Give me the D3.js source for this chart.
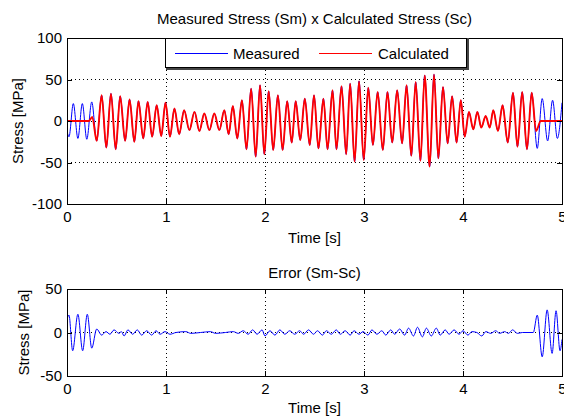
<!DOCTYPE html>
<html lang="en">
<head>
  <meta charset="utf-8">
  <title>Measured Stress x Calculated Stress</title>
  <style>
    body {
      margin: 0;
      background: #fff;
    }

    svg {
      display: block;
      font-family: "Liberation Sans", Arial, sans-serif;
    }

    .axis text {
      font-size: 15px;
      fill: #000;
    }

    .axis path,
    .axis line {
      fill: none;
      stroke: #000;
      shape-rendering: crispEdges;
    }

    .grid line {
      stroke: #000;
      stroke-dasharray: 1, 3;
      shape-rendering: crispEdges;
    }

    .label {
      font-size: 15px;
      fill: #000;
    }
  </style>
</head>

<body>
  <div id="chart"></div>
  <script src="https://d3js.org/d3.v7.min.js"></script>
  <script>

    // ---- data (turning points of each trace) ----

    let xTicks = [0, 1, 2, 3, 4, 5];
    let topYTicks = [-100, -50, 0, 50, 100];
    let errYTicks = [-50, 0, 50];

    // calculated stress Sc [MPa]
    let calcTime = [0, 0.22, 0.255, 0.30, 0.35, 0.397, 0.444, 0.492, 0.537, 0.587,
      0.632, 0.68, 0.722, 0.77, 0.815, 0.86, 0.906, 0.952, 0.995, 1.04,
      1.085, 1.133, 1.183, 1.236, 1.288, 1.337, 1.387, 1.438, 1.488, 1.539,
      1.589, 1.633, 1.675, 1.72, 1.767, 1.813, 1.86, 1.906, 1.95, 1.993,
      2.037, 2.083, 2.13, 2.178, 2.224, 2.27, 2.31, 2.356, 2.402, 2.452,
      2.495, 2.54, 2.59, 2.632, 2.682, 2.722, 2.773, 2.82, 2.86, 2.905,
      2.95, 2.997, 3.043, 3.09, 3.138, 3.19, 3.237, 3.285, 3.335, 3.385,
      3.43, 3.478, 3.522, 3.57, 3.613, 3.663, 3.707, 3.751, 3.798, 3.845,
      3.89, 3.935, 3.978, 4.017, 4.06, 4.104, 4.145, 4.185, 4.229, 4.27,
      4.306, 4.353, 4.4, 4.452, 4.505, 4.55, 4.598, 4.646, 4.694, 4.738,
      4.785, 5.0];
    let calcStress = [0, 0, 5, -24, 31, -32, 33, -34, 30, -24,
      26, -25, 24, -21, 23, -19, 19, -18, 22, -19,
      15, -16, 13, -11, 11, -12, 9, -11, 9, -11,
      13, -16, 18, -21, 25, -34, 39, -43, 43, -40,
      36, -35, 31, -35, 24, -26, 24, -23, 27, -29,
      31, -33, 27, -34, 37, -34, 42, -40, 45, -49,
      48, -47, 40, -29, 35, -35, 35, -26, 37, -27,
      43, -42, 47, -48, 55, -55, 56, -45, 41, -27,
      30, -26, 25, -19, 11, -10, 11, -8, 6, -8,
      13, -12, 19, -26, 34, -31, 35, -34, 34, -12,
      0, 0];

    // measured stress Sm [MPa]: follows Sc in the middle, own swings at both ends
    let measStartTime = [0, 0.02, 0.064, 0.11, 0.155, 0.20, 0.25];
    let measStartStress = [-12, -19, 21, -21, 21, -22, 23];
    let measEndTime = [4.75, 4.80, 4.855, 4.905, 4.953, 5.0];
    let measEndStress = [-33, 27, -24, 25, -21, 22];

    // error Sm - Sc [MPa]
    let errTime = [0, 0.02, 0.057, 0.11, 0.158, 0.205, 0.25, 0.30, 0.35, 0.394,
      0.434, 0.475, 0.525, 0.55, 0.576, 0.616, 0.663, 0.71, 0.754, 0.805,
      0.855, 0.90, 0.94, 0.99, 1.04, 1.10, 1.2, 1.25, 1.35, 1.45,
      1.5, 1.6, 1.68, 1.73, 1.78, 1.83, 1.875, 1.92, 1.97, 2.0,
      2.05, 2.10, 2.15, 2.2, 2.25, 2.30, 2.35, 2.39, 2.44, 2.49,
      2.53, 2.58, 2.62, 2.67, 2.72, 2.76, 2.81, 2.86, 2.90, 2.95,
      2.99, 3.04, 3.08, 3.13, 3.18, 3.22, 3.27, 3.31, 3.36, 3.41,
      3.45, 3.50, 3.54, 3.59, 3.63, 3.68, 3.73, 3.77, 3.82, 3.86,
      3.91, 3.96, 4.00, 4.05, 4.09, 4.14, 4.19, 4.23, 4.28, 4.33,
      4.37, 4.42, 4.46, 4.50, 4.55, 4.60, 4.71, 4.75, 4.80, 4.85,
      4.90, 4.94, 4.98, 5.0];
    let errStress = [15, 20, -21, 21, -21, 21, -18, 4, -3, 1,
      -2, 3, -1, 1, -4, 3, -2, 3, -3, 2,
      -3, 2, -2, 1, -2, 0, 1, -1, 0, 1,
      -1, 0, 1, -1, 2, -2, 3, -2, 3, -4,
      2, -3, 3, -2, 2, -2, 2, -2, 3, -2,
      2, -3, 2, -2, 3, -2, 2, -3, 2, -2,
      1, -3, 3, -2, 2, -3, 3, -2, 4, -3,
      5, -4, 6, -5, 5, -4, 5, -3, 3, -2,
      3, -2, 2, -3, 1, 0, -4, 1, -1, 2,
      -1, 1, -1, 3, -1, 0, 0, 20, -28, 26,
      -24, 25, -21, -8];

    // ---- build point lists ----
    let calcPts = d3.zip(calcTime, calcStress);
    let measPts = d3.zip(measStartTime, measStartStress)
      .concat(calcPts.filter(p => p[0] >= 0.3 && p[0] < 4.7))
      .concat(d3.zip(measEndTime, measEndStress));
    let errPts = d3.zip(errTime, errStress);

    // ---- layout ----
    let W = 564, H = 416;
    let left = 67, right = 562;
    let w = right - left;

    let svg = d3.select("#chart")
      .append("svg")
      .attr("width", W)
      .attr("height", H);

    let x = d3.scaleLinear().domain([0, 5]).range([0, w]);

    function panel(top, bottom, yDomain, yTicks, gridY, id) {
      let h = bottom - top;
      let y = d3.scaleLinear().domain(yDomain).range([h, 0]);
      let g = svg.append("g").attr("transform", "translate(" + left + "," + top + ")");

      g.append("clipPath").attr("id", id)
        .append("rect").attr("width", w).attr("height", h);

      // dotted grid
      let grid = g.append("g").attr("class", "grid");
      grid.selectAll(".gx").data([1, 2, 3, 4]).enter().append("line")
        .attr("x1", d => x(d)).attr("x2", d => x(d))
        .attr("y1", 0).attr("y2", h);
      grid.selectAll(".gy").data(gridY).enter().append("line")
        .attr("x1", 0).attr("x2", w)
        .attr("y1", d => y(d)).attr("y2", d => y(d));

      let plot = g.append("g").attr("clip-path", "url(#" + id + ")");

      // axes (MATLAB style box with inward ticks)
      let fmt = d => String(d);
      g.append("g").attr("class", "axis")
        .attr("transform", "translate(0," + h + ")")
        .call(d3.axisBottom(x).tickValues(xTicks).tickSize(-5).tickSizeOuter(0).tickPadding(7).tickFormat(fmt));
      g.append("g").attr("class", "axis")
        .call(d3.axisTop(x).tickValues(xTicks).tickSize(-5).tickSizeOuter(0).tickFormat(""));
      g.append("g").attr("class", "axis")
        .call(d3.axisLeft(y).tickValues(yTicks).tickSize(-5).tickSizeOuter(0).tickPadding(5).tickFormat(fmt));
      g.append("g").attr("class", "axis")
        .attr("transform", "translate(" + w + ",0)")
        .call(d3.axisRight(y).tickValues(yTicks).tickSize(-5).tickSizeOuter(0).tickFormat(""));

      return { g: g, plot: plot, y: y, h: h };
    }

    function curve(y) {
      return d3.line()
        .x(d => x(d[0]))
        .y(d => y(d[1]))
        .curve(d3.curveMonotoneX);
    }

    // ---- top: Sm vs Sc ----
    let p1 = panel(38, 204, [-100, 100], topYTicks, [-50, 0, 50], "clipTop");

    p1.plot.append("path")
      .datum(measPts)
      .attr("fill", "none")
      .attr("stroke", "#0000ff")
      .attr("stroke-width", 1)
      .attr("d", curve(p1.y));

    p1.plot.append("path")
      .datum(calcPts)
      .attr("fill", "none")
      .attr("stroke", "#ff0000")
      .attr("stroke-width", 1.9)
      .attr("d", curve(p1.y));

    svg.append("text").attr("class", "label")
      .attr("x", left + w / 2).attr("y", 24)
      .attr("text-anchor", "middle")
      .text("Measured Stress (Sm) x Calculated Stress (Sc)");

    svg.append("text").attr("class", "label")
      .attr("x", left + w / 2).attr("y", 243)
      .attr("text-anchor", "middle")
      .text("Time [s]");

    svg.append("text").attr("class", "label")
      .attr("transform", "translate(23," + (38 + p1.h / 2) + ") rotate(-90)")
      .attr("text-anchor", "middle")
      .text("Stress [MPa]");

    // legend
    let lg = svg.append("g");
    lg.append("rect")
      .attr("x", 165.5).attr("y", 38.5)
      .attr("width", 301).attr("height", 29)
      .attr("fill", "#fff")
      .attr("stroke", "#000")
      .attr("shape-rendering", "crispEdges");
    lg.append("path")
      .attr("d", "M166,68.5H467.5V38")
      .attr("fill", "none")
      .attr("stroke", "#444")
      .attr("stroke-width", 2)
      .attr("shape-rendering", "crispEdges");
    lg.append("line").attr("x1", 175).attr("x2", 228).attr("y1", 53.5).attr("y2", 53.5)
      .attr("stroke", "#0000ff");
    lg.append("text").attr("class", "label").attr("x", 233).attr("y", 59).text("Measured");
    lg.append("line").attr("x1", 319).attr("x2", 372).attr("y1", 53.5).attr("y2", 53.5)
      .attr("stroke", "#ff0000");
    lg.append("text").attr("class", "label").attr("x", 378).attr("y", 59).text("Calculated");

    // ---- bottom: error ----
    let p2 = panel(289, 376, [-50, 50], errYTicks, [0], "clipErr");

    p2.plot.append("path")
      .datum(errPts)
      .attr("fill", "none")
      .attr("stroke", "#0000ff")
      .attr("stroke-width", 1)
      .attr("d", curve(p2.y));

    svg.append("text").attr("class", "label")
      .attr("x", left + w / 2).attr("y", 278)
      .attr("text-anchor", "middle")
      .text("Error (Sm-Sc)");

    svg.append("text").attr("class", "label")
      .attr("x", left + w / 2).attr("y", 413)
      .attr("text-anchor", "middle")
      .text("Time [s]");

    svg.append("text").attr("class", "label")
      .attr("transform", "translate(29," + (289 + p2.h / 2) + ") rotate(-90)")
      .attr("text-anchor", "middle")
      .text("Stress [MPa]");

  </script>
</body>

</html>
